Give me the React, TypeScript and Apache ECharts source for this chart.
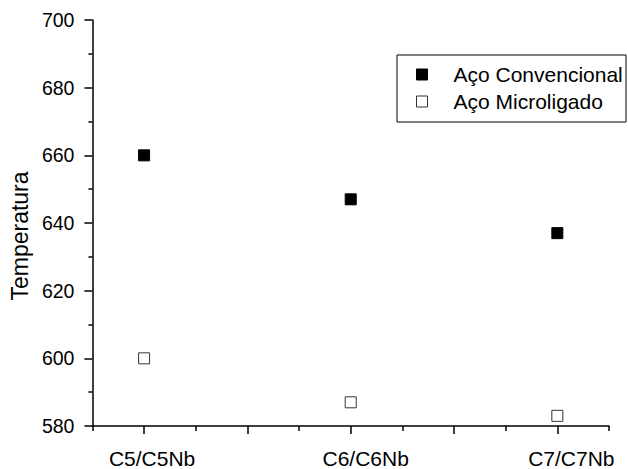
import React, { useEffect, useRef } from "react";
import * as echarts from "echarts";

const categories = ["C5/C5Nb", "C6/C6Nb", "C7/C7Nb"];
const conventional = [660, 647, 637];
const microligado = [600, 587, 583];
const yTicks = [580, 600, 620, 640, 660, 680, 700];
const seriesNames = ["Aço Convencional", "Aço Microligado"];

const FONT = "'Liberation Sans', Arial, sans-serif";

export default function App() {
  const ref = useRef<HTMLDivElement>(null);
  useEffect(() => {
    if (!ref.current) return;
    const chart = echarts.init(ref.current, null, { renderer: "svg" });
    const majorX = [1, 1.5, 2, 2.5, 3];
    const minorX = [0.75, 1.25, 1.75, 2.25, 2.75, 3.25];
    const labelStyles = ["c0", "c1", "c2"];
    const option: any = {
      animation: false,
      backgroundColor: "#ffffff",
      textStyle: { fontFamily: FONT },
      grid: { left: 91.5, right: 19, top: 20, bottom: 43, containLabel: false },
      legend: {
        orient: "vertical",
        left: 411,
        top: 59,
        itemWidth: 11,
        itemHeight: 11,
        itemGap: 6,
        data: [
          { name: seriesNames[0], icon: "rect", itemStyle: { color: "#000", borderColor: "#000", borderWidth: 1 } },
          { name: seriesNames[1], icon: "rect", itemStyle: { color: "#fff", borderColor: "#333", borderWidth: 1 } },
        ],
        textStyle: { fontFamily: FONT, fontSize: 21, color: "#000", lineHeight: 21, padding: [0, 0, 0, 21] },
      },
      graphic: [
        {
          type: "rect",
          shape: { x: 397, y: 55, width: 229, height: 67 },
          style: { fill: "none", stroke: "#000", lineWidth: 1 },
          z: 10,
        },
      ],
      xAxis: [
        {
          type: "value",
          min: 0.75,
          max: 3.25,
          axisLine: { show: true, lineStyle: { color: "#000", width: 1.5 } },
          axisTick: { show: true, customValues: majorX, length: 8, lineStyle: { color: "#000", width: 1.5 } },
          axisLabel: {
            customValues: [1, 2, 3],
            formatter: (v: number) => {
              const i = Math.round(v) - 1;
              const name = categories[i];
              return name ? `{${labelStyles[i]}|${name}}` : "";
            },
            fontFamily: FONT,
            fontSize: 21,
            color: "#000",
            margin: 22,
            rich: {
              c0: { fontFamily: FONT, fontSize: 21, color: "#000", padding: [0, 0, 0, 16] },
              c1: { fontFamily: FONT, fontSize: 21, color: "#000", padding: [0, 0, 0, 30] },
              c2: { fontFamily: FONT, fontSize: 21, color: "#000", padding: [0, 0, 0, 28] },
            },
          },
          splitLine: { show: false },
        },
        {
          type: "value",
          position: "bottom",
          min: 0.75,
          max: 3.25,
          axisLine: { show: false },
          axisTick: { show: true, customValues: minorX, length: 5, lineStyle: { color: "#000", width: 1.5 } },
          axisLabel: { show: false },
          splitLine: { show: false },
        },
      ],
      yAxis: {
        type: "value",
        min: yTicks[0],
        max: yTicks[yTicks.length - 1],
        interval: 20,
        name: "Temperatura",
        nameLocation: "middle",
        nameRotate: 90,
        nameGap: 58,
        nameTextStyle: { fontFamily: FONT, fontSize: 23, color: "#000", padding: [0, 26, 0, 0] },
        axisLine: { show: true, lineStyle: { color: "#000", width: 1.5 } },
        axisTick: { show: true, length: 8, lineStyle: { color: "#000", width: 1.5 } },
        minorTick: { show: true, splitNumber: 2, length: 4, lineStyle: { color: "#000", width: 1.5 } },
        axisLabel: { fontFamily: FONT, fontSize: 19.5, color: "#000", margin: 18 },
        splitLine: { show: false },
      },
      series: [
        {
          name: seriesNames[0],
          type: "scatter",
          symbol: "rect",
          symbolSize: 11,
          itemStyle: { color: "#000", borderColor: "#000", borderWidth: 1, opacity: 1 },
          data: conventional.map((v, i) => [i + 1, v]),
        },
        {
          name: seriesNames[1],
          type: "scatter",
          symbol: "rect",
          symbolSize: 11,
          itemStyle: { color: "#fff", borderColor: "#333", borderWidth: 1, opacity: 1 },
          data: microligado.map((v, i) => [i + 1, v]),
        },
      ],
    };
    chart.setOption(option);
    return () => chart.dispose();
  }, []);
  return (
    <div
      ref={ref}
      style={{ position: "fixed", left: 0, top: 0, width: 628, height: 469 }}
    />
  );
}
